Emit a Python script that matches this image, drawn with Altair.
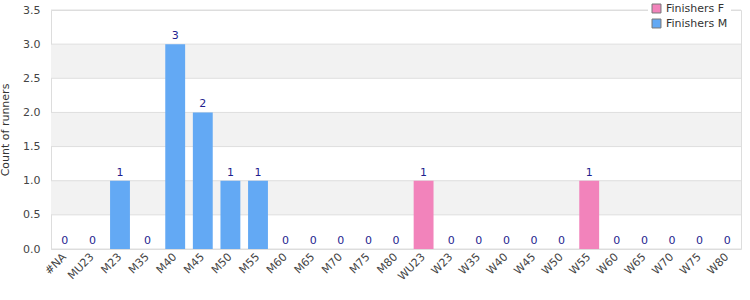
import altair as alt
import pandas as pd

categories = ["#NA", "MU23", "M23", "M35", "M40", "M45", "M50", "M55", "M60", "M65", "M70", "M75", "M80",
              "WU23", "W23", "W35", "W40", "W45", "W50", "W55", "W60", "W65", "W70", "W75", "W80"]
counts = [0, 0, 1, 0, 3, 2, 1, 1, 0, 0, 0, 0, 0,
          1, 0, 0, 0, 0, 0, 1, 0, 0, 0, 0, 0]
series = ["Finishers M"] * 13 + ["Finishers F"] * 12

band_lo = [0.5, 1.5, 2.5]
band_hi = [1.0, 2.0, 3.0]
ytick_values = [0, 0.5, 1, 1.5, 2, 2.5, 3, 3.5]

df = pd.DataFrame({"cat": categories, "count": counts, "series": series})
bands = pd.DataFrame({"lo": band_lo, "hi": band_hi})
grid = pd.DataFrame({"v": ytick_values})

FONT = "DejaVu Sans"

yscale = alt.Scale(domain=[0, 3.5], nice=False)

yaxis = alt.Axis(title="Count of runners", values=ytick_values, format=".1f",
                 labelOverlap=False, labelFlush=False, grid=False,
                 labelColor="#444444", labelFontSize=11, labelFont=FONT, titleFont=FONT,
                 titleFontSize=11, titleFontWeight="normal", titleColor="#333333",
                 ticks=False, domain=False, labelPadding=11, titlePadding=12)

band_layer = alt.Chart(bands).mark_rect(color="#f2f2f2").encode(
    y=alt.Y("lo:Q", scale=yscale, axis=yaxis),
    y2="hi:Q",
    x=alt.value(0),
    x2=alt.value(690),
)

grid_layer = alt.Chart(grid).mark_rule(color="#dedede", strokeWidth=1).encode(
    y=alt.Y("v:Q", scale=yscale, axis=yaxis),
    x=alt.value(0),
    x2=alt.value(690),
)

xenc = alt.X("cat:N", sort=categories, scale=alt.Scale(paddingInner=0.28, paddingOuter=0.14),
             axis=alt.Axis(title=None, labelAngle=-45, labelAlign="right", labelBaseline="middle",
                           labelColor="#444444", labelFontSize=11, labelFont=FONT, ticks=False,
                           domain=False, labelPadding=6))

bars = alt.Chart(df).mark_bar().encode(
    x=xenc,
    y=alt.Y("count:Q", scale=yscale, axis=yaxis),
    color=alt.Color("series:N", scale=alt.Scale(domain=["Finishers F", "Finishers M"],
                                                range=["#f283bb", "#63a9f4"]),
                    legend=alt.Legend(title=None, orient="none", legendX=597, legendY=-10,
                                      symbolType="square", symbolStrokeColor="#777777", symbolStrokeWidth=1,
                                      symbolSize=80, labelFont=FONT, labelFontSize=11, labelColor="#333333",
                                      fillColor="white", padding=3, rowPadding=2)),
)

labels = alt.Chart(df).mark_text(baseline="bottom", dy=-3, color="#1f1f8f", font=FONT, fontSize=11).encode(
    x=alt.X("cat:N", sort=categories),
    y=alt.Y("count:Q", scale=yscale, axis=yaxis),
    text="count:Q",
)

chart = alt.layer(band_layer, grid_layer, bars, labels).properties(
    width=690, height=239,
    padding={"left": 51, "top": 10, "right": 9, "bottom": 51},
    autosize=alt.AutoSizeParams(type="none"),
).configure_view(stroke="#d8d8d8").configure(background="white")

chart.save("out.html", embed_options={"renderer": "svg", "actions": False})
